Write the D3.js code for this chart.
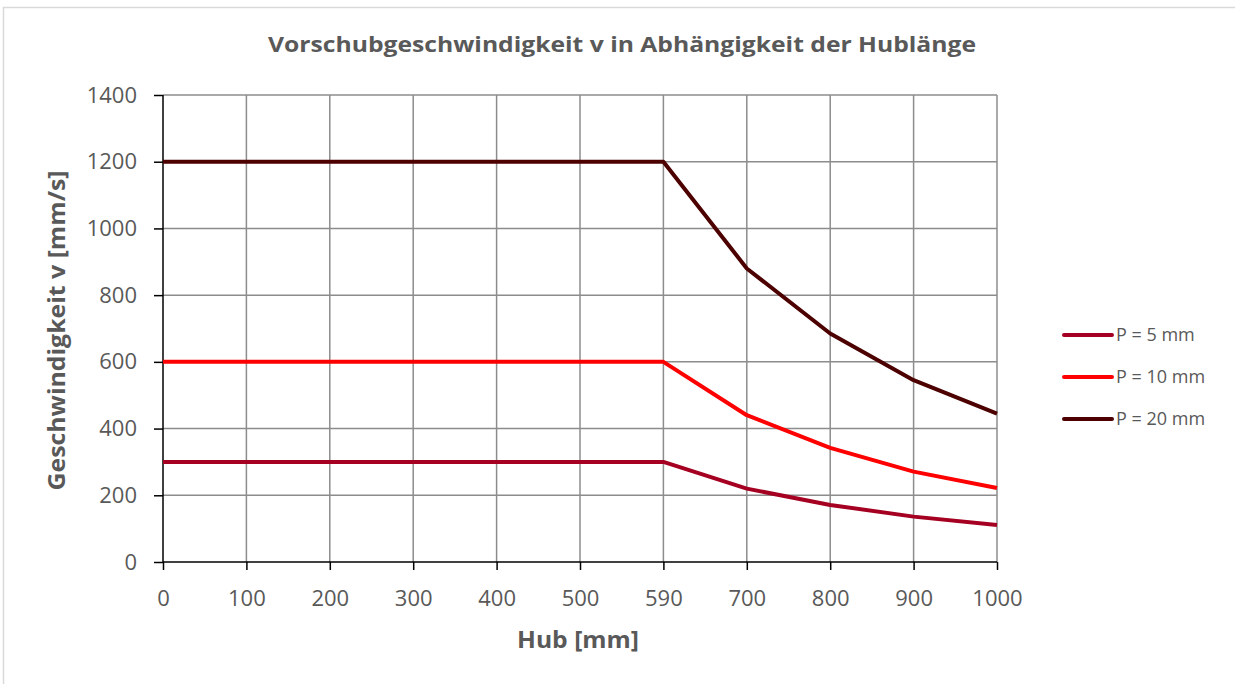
<!DOCTYPE html>
<html>
<head>
<meta charset="utf-8">
<title>Vorschubgeschwindigkeit</title>
<style>
body { margin: 0; background: #fff; }
text { font-family: "Open Sans", "Liberation Sans", sans-serif; fill: #595959; }
</style>
</head>
<body>
<div id="container"></div>
<script src="https://d3js.org/d3.v7.min.js"></script>
<script>
// Hub categories (Excel-style category axis, equal spacing)
const hub = ["0", "100", "200", "300", "400", "500", "590", "700", "800", "900", "1000"];
const p5 = [300, 300, 300, 300, 300, 300, 300, 220, 171, 136, 111];
const p10 = [600, 600, 600, 600, 600, 600, 600, 440, 342, 271, 222];
const p20 = [1200, 1200, 1200, 1200, 1200, 1200, 1200, 880, 685, 545, 445];
const seriesNames = ["P = 5 mm", "P = 10 mm", "P = 20 mm"];
const seriesColors = ["#a50021", "#ff0000", "#4c0000"];
const yTicks = [0, 200, 400, 600, 800, 1000, 1200, 1400];

const width = 1235, height = 684;
const marginLeft = 163, marginRight = 238, marginTop = 95, marginBottom = 122;

const x = d3.scalePoint()
    .domain(hub)
    .range([marginLeft, width - marginRight]);

const y = d3.scaleLinear()
    .domain([0, 1400])
    .range([height - marginBottom, marginTop]);

const svg = d3.create("svg")
    .attr("width", width)
    .attr("height", height);

// chart frame
svg.append("rect")
    .attr("x", 3.5).attr("y", 7.5)
    .attr("width", width - 2).attr("height", height - 4)
    .attr("fill", "none")
    .attr("stroke", "#d9d9d9")
    .attr("stroke-width", 1.5);

// title
svg.append("text")
    .attr("x", 622).attr("y", 52)
    .attr("text-anchor", "middle")
    .attr("font-size", 22)
    .attr("font-weight", "bold")
    .attr("textLength", 708)
    .attr("lengthAdjust", "spacingAndGlyphs")
    .text("Vorschubgeschwindigkeit v in Abhängigkeit der Hublänge");

// grid
const grid = svg.append("g").attr("stroke", "#8c8c8c").attr("stroke-width", 1.5);
grid.selectAll("line.h").data(yTicks.filter(d => d > 0)).join("line")
    .attr("class", "h")
    .attr("x1", marginLeft).attr("x2", width - marginRight)
    .attr("y1", d => y(d)).attr("y2", d => y(d));
grid.selectAll("line.v").data(hub.slice(1)).join("line")
    .attr("class", "v")
    .attr("x1", d => x(d)).attr("x2", d => x(d))
    .attr("y1", marginTop).attr("y2", height - marginBottom);

// axes
const xAxis = svg.append("g")
    .attr("transform", `translate(0,${height - marginBottom})`)
    .call(d3.axisBottom(x).tickSize(8).tickPadding(20));
const yAxis = svg.append("g")
    .attr("transform", `translate(${marginLeft},0)`)
    .call(d3.axisLeft(y).tickValues(yTicks).tickFormat(d3.format("d")).tickSize(9).tickPadding(17));
for (const ax of [xAxis, yAxis]) {
  ax.selectAll("path.domain").attr("stroke", "#000").attr("stroke-width", 1.5);
  ax.selectAll(".tick line").attr("stroke", "#000").attr("stroke-width", 1.5);
  ax.selectAll(".tick text")
      .attr("font-size", 22)
      .attr("font-family", "'Open Sans', 'Liberation Sans', sans-serif")
      .attr("fill", "#595959");
}
yAxis.selectAll("path.domain").attr("d", `M0,${y(1400)}V${y(0)}`);
xAxis.selectAll("path.domain").attr("d", `M${x("0")},0H${x("1000")}`);

// axis titles
svg.append("text")
    .attr("x", 578).attr("y", 648)
    .attr("text-anchor", "middle")
    .attr("font-size", 23).attr("font-weight", "bold")
    .attr("textLength", 122)
    .attr("lengthAdjust", "spacingAndGlyphs")
    .text("Hub [mm]");
svg.append("text")
    .attr("transform", `translate(65,${(y(0) + y(1400)) / 2 + 2}) rotate(-90)`)
    .attr("text-anchor", "middle")
    .attr("font-size", 23).attr("font-weight", "bold")
    .attr("textLength", 320)
    .attr("lengthAdjust", "spacingAndGlyphs")
    .text("Geschwindigkeit v [mm/s]");

// lines
const series = [p5, p10, p20];
const line = d3.line()
    .x((d, i) => x(hub[i]))
    .y(d => y(d));
svg.append("g").selectAll("path").data(series).join("path")
    .attr("fill", "none")
    .attr("stroke", (d, i) => seriesColors[i])
    .attr("stroke-width", 4)
    .attr("stroke-linejoin", "round")
    .attr("d", d => line(d));

// legend
const legend = svg.append("g").selectAll("g").data(seriesNames).join("g")
    .attr("transform", (d, i) => `translate(1062,${335 + i * 42})`);
legend.append("line")
    .attr("x1", 2).attr("x2", 50)
    .attr("stroke", (d, i) => seriesColors[i])
    .attr("stroke-width", 4)
    .attr("stroke-linecap", "round");
legend.append("text")
    .attr("x", 54).attr("dy", "0.35em")
    .attr("font-size", 18)
    .text(d => d);

container.append(svg.node());
</script>
</body>
</html>
